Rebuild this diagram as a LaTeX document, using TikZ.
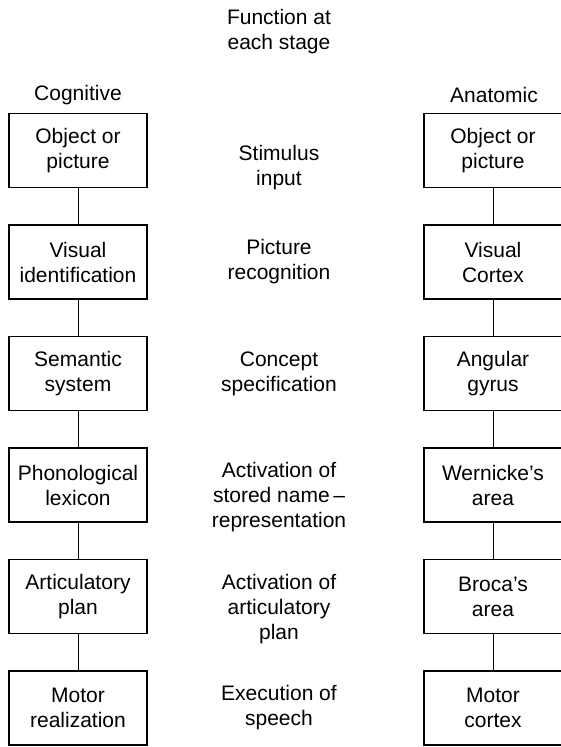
\documentclass[tikz,border=0pt]{standalone}
\usepackage{fontspec}
\setmainfont{Liberation Sans}
\begin{document}
\begin{tikzpicture}[x=1pt,y=-1pt,
  txt/.style={font=\fontsize{21}{25}\selectfont, align=center, inner sep=0pt},
  box/.style={txt, draw, line width=1.3pt, minimum width=138pt, minimum height=74pt},
  link/.style={line width=1pt}]
\useasboundingbox (0,0) rectangle (561,747);
\fill[white] (0,0) rectangle (561,747);

% headers
\node[txt] (hfun) at (279,32) {Function at\\each stage};
\node[txt] (hcog) at (78,95) {Cognitive};
\node[txt] (hana) at (494,95) {Anatomic};

% cognitive column
\node[box] (L1) at (78,150.5) {Object or\\picture};
\node[box] (L2) at (78,262)   {Visual\\identification};
\node[box] (L3) at (78,373.5) {Semantic\\system};
\node[box] (L4) at (78,485)   {Phonological\\lexicon};
\node[box] (L5) at (78,596.5) {Articulatory\\plan};
\node[box] (L6) at (78,708)   {Motor\\realization};

% anatomic column
\node[box] (R1) at (493,150.5) {Object or\\picture};
\node[box] (R2) at (493,262)   {Visual\\Cortex};
\node[box] (R3) at (493,373.5) {Angular\\gyrus};
\node[box] (R4) at (493,485)   {Wernicke's\\area};
\node[box] (R5) at (493,596.5) {Broca's\\area};
\node[box] (R6) at (493,708)   {Motor\\cortex};

% function column
\node[txt] (M1) at (279,168)   {Stimulus\\input};
\node[txt] (M2) at (279,262)   {Picture\\recognition};
\node[txt] (M3) at (279,373.5) {Concept\\specification};
\node[txt] (M4) at (279,497.5) {Activation of\\stored name\,--\\representation};
\node[txt] (M5) at (279,609)   {Activation of\\articulatory\\plan};
\node[txt] (M6) at (279,708)   {Execution of\\speech};

% connectors
\foreach \a/\b in {1/2,2/3,3/4,4/5,5/6}{
  \draw[link] (L\a) -- (L\b);
  \draw[link] (R\a) -- (R\b);
}
\end{tikzpicture}
\end{document}
